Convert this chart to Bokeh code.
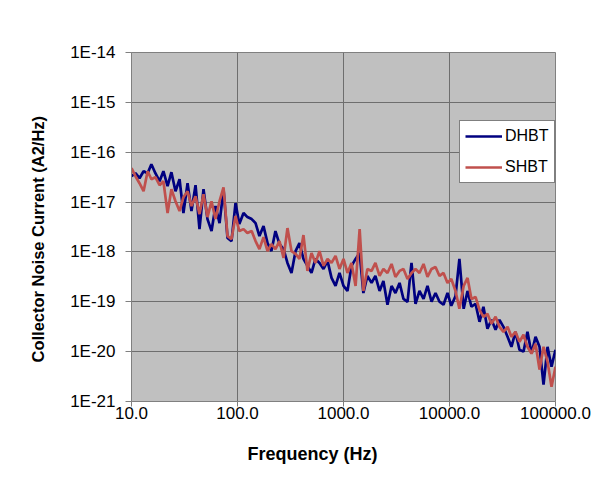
from bokeh.plotting import figure
from bokeh.models import (FixedTicker, CustomJSTickFormatter, Legend, LegendItem,
                          Range1d, Title)
from bokeh.embed import file_html
from bokeh.resources import INLINE

freq_hz = [10.0, 10.9, 11.9, 13.0, 14.2, 15.4, 16.8, 18.4, 20.0, 21.9,
           23.8, 26.0, 28.4, 30.9, 33.8, 36.8, 40.2, 43.8, 47.8, 52.1,
           56.9, 62.0, 67.7, 73.8, 80.5, 87.8, 95.8, 104, 114, 124,
           136, 148, 161, 176, 192, 209, 228, 249, 272, 296,
           323, 353, 384, 419, 457, 499, 544, 594, 648, 707,
           771, 841, 917, 1000, 1090, 1190, 1300, 1420, 1540, 1680,
           1840, 2000, 2190, 2380, 2600, 2840, 3090, 3380, 3680, 4020,
           4380, 4780, 5210, 5690, 6200, 6770, 7380, 8050, 8780, 9580,
           10400, 11400, 12400, 13600, 14800, 16100, 17600, 19200, 20900, 22800,
           24900, 27200, 29600, 32300, 35300, 38400, 41900, 45700, 49900, 54400,
           59400, 64800, 70700, 77100, 84100, 91700, 100000]

dhbt = [3.30e-17, 3.79e-17, 3.01e-17, 4.16e-17, 3.79e-17, 5.74e-17, 3.79e-17, 2.62e-17, 4.16e-17, 2.08e-17,
        3.97e-17, 1.65e-17, 2.87e-17, 6.02e-18, 2.39e-17, 6.60e-18, 2.18e-17, 2.87e-18, 1.81e-17, 4.56e-18,
        2.62e-18, 8.31e-18, 3.79e-18, 1.81e-17, 1.90e-18, 1.65e-18, 9.55e-18, 3.62e-18, 6.02e-18, 5.00e-18,
        4.56e-18, 3.79e-18, 2.08e-18, 3.30e-18, 1.50e-18, 1.04e-18, 2.62e-18, 1.44e-18, 1.14e-18, 6.02e-19,
        3.79e-19, 1.04e-18, 1.50e-18, 7.24e-19, 5.24e-19, 3.79e-19, 7.24e-19, 6.02e-19, 4.56e-19, 6.60e-19,
        3.01e-19, 2.08e-19, 3.79e-19, 2.08e-19, 1.65e-19, 5.24e-19, 7.24e-19, 9.55e-19, 1.50e-19, 3.30e-19,
        2.39e-19, 3.30e-19, 1.65e-19, 2.62e-19, 8.71e-20, 2.08e-19, 1.50e-19, 2.39e-19, 1.14e-19, 1.00e-19,
        6.02e-19, 9.12e-20, 1.65e-19, 1.14e-19, 2.08e-19, 1.00e-19, 1.50e-19, 1.00e-19, 8.71e-20, 1.50e-19,
        8.31e-20, 1.31e-19, 7.24e-19, 7.24e-20, 1.65e-19, 7.94e-20, 9.12e-20, 3.97e-20, 7.94e-20, 2.87e-20,
        4.35e-20, 2.74e-20, 4.35e-20, 3.15e-20, 1.98e-20, 1.25e-20, 2.50e-20, 1.09e-20, 1.00e-20, 2.50e-20,
        9.12e-21, 1.98e-20, 1.25e-20, 2.18e-21, 1.25e-20, 5.00e-21, 1.09e-20]

shbt = [4.78e-17, 3.30e-17, 2.39e-17, 1.65e-17, 4.16e-17, 2.87e-17, 3.15e-17, 2.18e-17, 2.62e-17, 6.02e-18,
        1.81e-17, 1.04e-17, 6.60e-18, 1.25e-17, 1.65e-17, 8.31e-18, 1.31e-17, 5.74e-18, 1.44e-17, 5.00e-18,
        1.04e-17, 4.56e-18, 1.04e-17, 1.98e-17, 2.08e-18, 1.81e-18, 5.24e-18, 2.62e-18, 2.87e-18, 2.39e-18,
        2.62e-18, 1.65e-18, 1.14e-18, 1.98e-18, 1.04e-18, 1.44e-18, 1.14e-18, 1.65e-18, 7.58e-19, 3.01e-18,
        1.04e-18, 9.12e-19, 7.24e-19, 2.18e-18, 4.16e-19, 9.55e-19, 6.02e-19, 1.04e-18, 5.24e-19, 7.24e-19,
        6.02e-19, 8.31e-19, 4.56e-19, 7.24e-19, 3.79e-19, 6.02e-19, 2.08e-19, 2.87e-18, 1.65e-19, 4.56e-19,
        4.16e-19, 6.02e-19, 3.30e-19, 4.56e-19, 3.79e-19, 5.74e-19, 3.15e-19, 4.16e-19, 4.56e-19, 2.87e-19,
        3.79e-19, 4.56e-19, 3.79e-19, 5.74e-19, 3.15e-19, 4.56e-19, 5.00e-19, 3.30e-19, 3.79e-19, 2.39e-19,
        2.87e-19, 1.65e-19, 7.24e-20, 2.08e-19, 3.01e-19, 1.14e-19, 1.25e-19, 6.91e-20, 5.00e-20, 5.74e-20,
        3.62e-20, 5.00e-20, 3.15e-20, 2.50e-20, 3.15e-20, 1.98e-20, 2.50e-20, 1.58e-20, 2.18e-20, 1.25e-20,
        9.12e-21, 1.44e-20, 4.35e-21, 1.25e-20, 6.30e-21, 1.98e-21, 5.00e-21]

x_ticks = [10, 100, 1000, 10000, 100000]
y_ticks = [1e-21, 1e-20, 1e-19, 1e-18, 1e-17, 1e-16, 1e-15, 1e-14]
series_names = ["DHBT", "SHBT"]
x_title = "Frequency (Hz)"
y_title = "Collector Noise Current (A2/Hz)"

FONT = "Liberation Sans"

p = figure(width=600, height=488, x_axis_type="log", y_axis_type="log",
           x_range=Range1d(10, 100000), y_range=Range1d(1e-21, 1e-14),
           output_backend="svg", toolbar_location=None,
           min_border_left=131, min_border_right=45,
           min_border_top=52, min_border_bottom=87)

p.background_fill_color = "#C0C0C0"
p.border_fill_color = "white"
p.outline_line_color = "#808080"
p.outline_line_width = 1

for g in (p.xgrid, p.ygrid):
    g.grid_line_color = "#6E6E6E"
    g.grid_line_width = 1

p.xaxis.ticker = FixedTicker(ticks=x_ticks, minor_ticks=[])
p.yaxis.ticker = FixedTicker(ticks=y_ticks, minor_ticks=[])
p.xaxis.formatter = CustomJSTickFormatter(code="return tick.toFixed(1);")
p.yaxis.formatter = CustomJSTickFormatter(
    code="return '1E' + Math.round(Math.log10(tick));")

for ax in (p.xaxis, p.yaxis):
    ax.axis_line_color = "#808080"
    ax.major_tick_line_color = "#808080"
    ax.minor_tick_line_color = None
    ax.major_tick_in = 0
    ax.major_label_text_font = FONT
    ax.major_label_text_font_size = "17px"
    ax.major_label_text_color = "black"

p.xaxis.major_tick_out = 5
p.yaxis.major_tick_out = 6
p.xaxis.major_label_standoff = 0
p.yaxis.major_label_standoff = 10

# axis titles as side-panel titles (the original titles sit off-centre)
p.add_layout(Title(text=x_title, align="left", offset=116, standoff=40,
                   text_font=FONT, text_font_size="18px",
                   text_font_style="bold", text_color="black"), "below")
p.add_layout(Title(text=y_title, align="left", offset=39, standoff=42,
                   text_font=FONT, text_font_size="16.5px",
                   text_font_style="bold", text_color="black"), "left")

r1 = p.line(freq_hz, dhbt, line_color="#000080", line_width=2.7)
r2 = p.line(freq_hz, shbt, line_color="#C0504D", line_width=2.7)

legend = Legend(items=[LegendItem(label=series_names[0], renderers=[r1]),
                       LegendItem(label=series_names[1], renderers=[r2])],
                location=(328, 218), margin=0, padding=5, spacing=11,
                glyph_width=37, glyph_height=20, label_height=20,
                label_standoff=3, label_text_font=FONT,
                label_text_font_size="16px", label_text_color="black",
                border_line_color="black", border_line_width=1,
                background_fill_color="white", background_fill_alpha=1.0)
p.add_layout(legend)

open("out.html", "w").write(file_html(p, INLINE))
